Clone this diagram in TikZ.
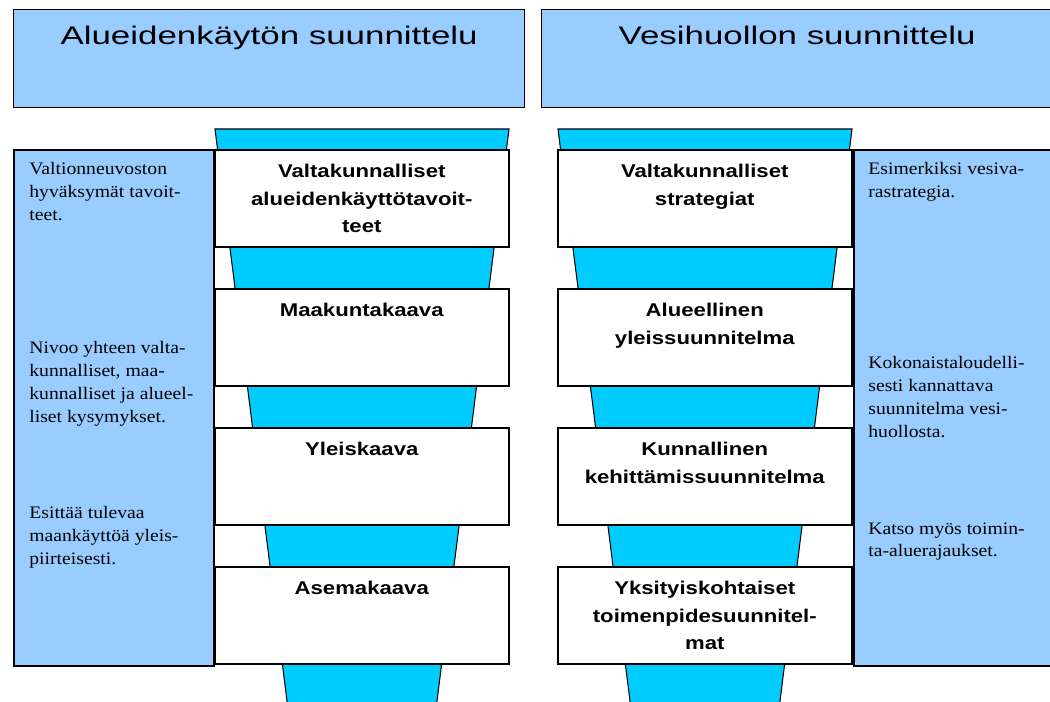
\documentclass[tikz,border=0pt]{standalone}
\usepackage{fontspec}
\usetikzlibrary{positioning}
\newfontfamily\otsikkofont[FakeStretch=1.37]{Liberation Sans}
\newfontfamily\tasofont[FakeStretch=1.2]{Liberation Sans}
\newfontfamily\selitefont[FakeStretch=1.12]{Liberation Serif}
\definecolor{paneeli}{HTML}{99CCFF}
\definecolor{suppilo}{HTML}{00CCFF}

\begin{document}
\begin{tikzpicture}[x=0.02cm,y=-0.02cm,
    otsikko/.style={draw, line width=0.8pt, fill=paneeli, inner sep=0pt, minimum width=10.22cm, minimum height=1.96cm, anchor=north west},
    sivu/.style={draw, line width=1.4pt, fill=paneeli, inner sep=0pt, minimum width=4cm, minimum height=10.32cm, anchor=north west},
    taso/.style={draw, line width=0.9pt, fill=white, inner sep=0pt, minimum width=5.88cm, minimum height=1.94cm, anchor=north west},
    otsikkoteksti/.style={inner sep=0pt, anchor=base, font=\otsikkofont\fontsize{14.5}{17}\selectfont},
    tasoteksti/.style={inner sep=0pt, align=center, font=\tasofont\bfseries\fontsize{10.5}{15.6}\selectfont},
    selite/.style={inner sep=0pt, anchor=north west, align=left, font=\selitefont\fontsize{10}{13}\selectfont},
    suppiloreuna/.style={fill=suppilo, draw, line width=0.6pt}]
    \useasboundingbox (0,0) rectangle (1050,701);
    \clip (0,0) rectangle (1050,701);

    % Otsikot
    \node[otsikko] (alue) at (13,9) {};
    \node[otsikko] (vesi) at (541,9) {};
    \node[otsikkoteksti] (alueteksti) at ([yshift=-20.4pt]alue.north) {Alueidenkäytön suunnittelu};
    \node[otsikkoteksti] (vesiteksti) at ([yshift=-20.4pt]vesi.north) {Vesihuollon suunnittelu};

    % Suppilot tasojen takana
    \filldraw[suppiloreuna] (215,129) -- (509,129) -- (435.6,712) -- (288.4,712) -- cycle;
    \filldraw[suppiloreuna] (558,129) -- (852,129) -- (778.6,712) -- (631.4,712) -- cycle;

    % Sivupaneelit
    \node[sivu] (vasen) at (13,149) {};
    \node[sivu] (oikea) at (853,149) {};

    % Alueidenkayton tasot
    \node[taso] (a1) at (214,149) {};
    \node[taso] (a2) at (214,288) {};
    \node[taso] (a3) at (214,427) {};
    \node[taso] (a4) at (214,566) {};
    \node[tasoteksti, below=8.6pt of a1.north] (a1t) {Valtakunnalliset\\alueidenkäyttötavoit-\\teet};
    \node[tasoteksti, below=8.6pt of a2.north] (a2t) {Maakuntakaava};
    \node[tasoteksti, below=8.6pt of a3.north] (a3t) {Yleiskaava};
    \node[tasoteksti, below=8.6pt of a4.north] (a4t) {Asemakaava};

    % Vesihuollon tasot
    \node[taso] (v1) at (557,149) {};
    \node[taso] (v2) at (557,288) {};
    \node[taso] (v3) at (557,427) {};
    \node[taso] (v4) at (557,566) {};
    \node[tasoteksti, below=8.6pt of v1.north] (v1t) {Valtakunnalliset\\strategiat};
    \node[tasoteksti, below=8.6pt of v2.north] (v2t) {Alueellinen\\yleissuunnitelma};
    \node[tasoteksti, below=8.6pt of v3.north] (v3t) {Kunnallinen\\kehittämissuunnitelma};
    \node[tasoteksti, below=8.6pt of v4.north] (v4t) {Yksityiskohtaiset\\toimenpidesuunnitel-\\mat};

    % Selitteet
    \node[selite] (s1) at (29,162) {Valtionneuvoston\\hyväksymät tavoit-\\teet.};
    \node[selite] (s2) at (29,341) {Nivoo yhteen valta-\\kunnalliset, maa-\\kunnalliset ja alueel-\\liset kysymykset.};
    \node[selite] (s3) at (29,506) {Esittää tulevaa\\maankäyttöä yleis-\\piirteisesti.};
    \node[selite] (s4) at (868,162) {Esimerkiksi vesiva-\\rastrategia.};
    \node[selite] (s5) at (868,356) {Kokonaistaloudelli-\\sesti kannattava\\suunnitelma vesi-\\huollosta.};
    \node[selite] (s6) at (868,522) {Katso myös toimin-\\ta-aluerajaukset.};
\end{tikzpicture}
\end{document}
